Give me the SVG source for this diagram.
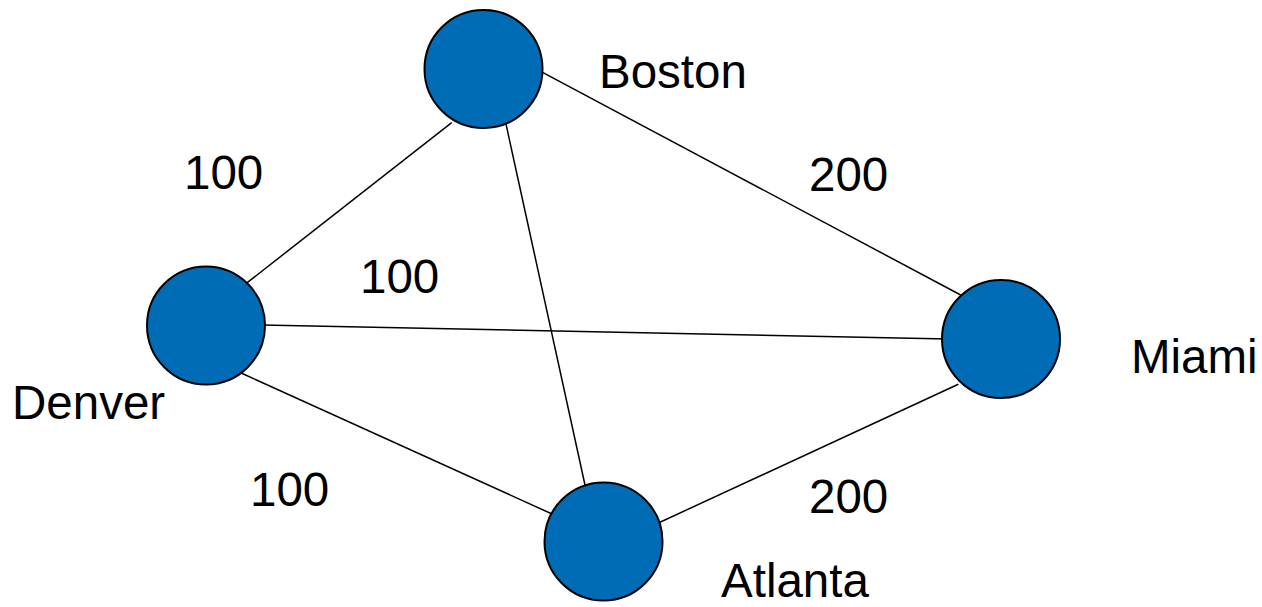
<svg xmlns="http://www.w3.org/2000/svg" width="1262" height="607" viewBox="0 0 1262 607">
<style>
.node{fill:#006CB5;stroke:#000;stroke-width:2}
.edge{stroke:#000;stroke-width:1.5;fill:none}
.lbl{font-family:"Liberation Sans",Arial,sans-serif;font-size:47.5px;fill:#000}
</style>
<rect width="1262" height="607" fill="#fff"/>
<g id="connectors">
<line class="edge" x1="451.7" y1="122.7" x2="243.3" y2="285.7"/>
<line class="edge" x1="505.7" y1="122.7" x2="585" y2="485"/>
<line class="edge" x1="543" y1="72.7" x2="960.7" y2="295"/>
<line class="edge" x1="261.7" y1="325" x2="948.3" y2="339"/>
<line class="edge" x1="241.7" y1="373.3" x2="552.7" y2="514.3"/>
<line class="edge" x1="654" y1="525" x2="958.3" y2="384.3"/>
</g>
<g id="edge-labels">
<text class="lbl" x="184" y="189">100</text>
<text class="lbl" x="360" y="293">100</text>
<text class="lbl" x="809" y="191">200</text>
<text class="lbl" x="250" y="506">100</text>
<text class="lbl" x="809" y="513">200</text>
</g>
<g id="boston"><circle class="node" cx="483.5" cy="69" r="59"/><text class="lbl" x="599" y="88">Boston</text></g>
<g id="denver"><circle class="node" cx="206" cy="325.5" r="59"/><text class="lbl" x="12" y="419">Denver</text></g>
<g id="miami"><circle class="node" cx="1001" cy="339" r="59"/><text class="lbl" x="1131" y="373">Miami</text></g>
<g id="atlanta"><circle class="node" cx="603.5" cy="541.5" r="59"/><text class="lbl" x="721" y="597">Atlanta</text></g>
</svg>
